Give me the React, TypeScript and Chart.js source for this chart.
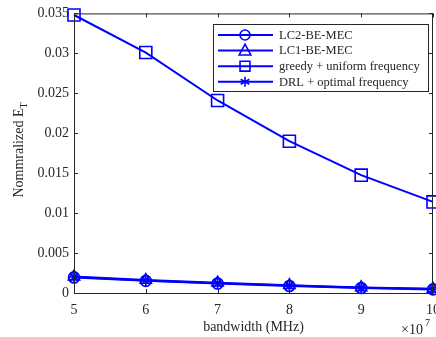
import React, { useEffect, useRef } from "react";
import { Chart, registerables } from "chart.js";

Chart.register(...registerables);

// Bandwidth (×10^7 Hz) and normalized energy E_T for each scheme
const bandwidth = [5, 6, 7, 8, 9, 10];
const lc2BeMec = [0.00195, 0.00152, 0.00118, 0.00088, 0.00062, 0.00045];
const lc1BeMec = [0.00205, 0.00162, 0.00128, 0.00097, 0.00070, 0.00052];
const greedyUniform = [0.0348, 0.0301, 0.0241, 0.0190, 0.01475, 0.0114];
const drlOptimal = [0.00200, 0.00158, 0.00123, 0.00093, 0.00066, 0.00049];
const yTicks = [0, 0.005, 0.01, 0.015, 0.02, 0.025, 0.03, 0.035];
const xTicks = [5, 6, 7, 8, 9, 10];

const BLUE = "#0000ff";
const FONT = "'Liberation Serif', 'Times New Roman', serif";
const AXIS = "#262626";
const TEXT = "#262626";

const seriesDefs = [
  { label: "LC2-BE-MEC", data: lc2BeMec, pointStyle: "circle", radius: 5.5 },
  { label: "LC1-BE-MEC", data: lc1BeMec, pointStyle: "triangle", radius: 6.5 },
  { label: "greedy + uniform frequency", data: greedyUniform, pointStyle: "rect", radius: 8.5 },
  { label: "DRL + optimal frequency", data: drlOptimal, pointStyle: "star", radius: 5.5 },
];

function drawMarker(ctx: CanvasRenderingContext2D, style: string, x: number, y: number, r: number) {
  ctx.strokeStyle = BLUE;
  ctx.beginPath();
  if (style === "circle") {
    ctx.arc(x, y, r, 0, Math.PI * 2);
  } else if (style === "triangle") {
    ctx.moveTo(x, y - r * 1.1);
    ctx.lineTo(x + r, y + r * 0.75);
    ctx.lineTo(x - r, y + r * 0.75);
    ctx.closePath();
  } else if (style === "rect") {
    const h = r * Math.SQRT1_2;
    ctx.rect(x - h, y - h, 2 * h, 2 * h);
  } else {
    ctx.moveTo(x, y - r);
    ctx.lineTo(x, y + r);
    const dx = r * 0.87, dy = r * 0.5;
    ctx.moveTo(x - dx, y - dy);
    ctx.lineTo(x + dx, y + dy);
    ctx.moveTo(x - dx, y + dy);
    ctx.lineTo(x + dx, y - dy);
  }
  ctx.stroke();
}

// Box, inward ticks, x tick labels, axis titles, exponent and legend
const decorations = {
  id: "decorations",
  afterDraw(chart: any) {
    const { ctx, chartArea: a, scales } = chart;
    const xs = scales.x;
    const ys = scales.y;
    ctx.save();
    ctx.strokeStyle = AXIS;
    ctx.lineWidth = 1;
    ctx.strokeRect(a.left + 0.5, a.top + 0.5, a.right - a.left - 1, a.bottom - a.top);
    const tl = 4;
    ctx.beginPath();
    for (const v of xTicks) {
      const px = Math.round(xs.getPixelForValue(v)) + 0.5;
      ctx.moveTo(px, a.bottom);
      ctx.lineTo(px, a.bottom - tl);
      ctx.moveTo(px, a.top);
      ctx.lineTo(px, a.top + tl);
    }
    for (const v of yTicks) {
      const py = Math.round(ys.getPixelForValue(v)) + 0.5;
      ctx.moveTo(a.left, py);
      ctx.lineTo(a.left + tl, py);
      ctx.moveTo(a.right, py);
      ctx.lineTo(a.right - tl, py);
    }
    ctx.stroke();

    // x tick labels
    ctx.fillStyle = TEXT;
    ctx.font = `14px ${FONT}`;
    ctx.textAlign = "center";
    ctx.textBaseline = "middle";
    for (const v of xTicks) {
      ctx.fillText(String(v), xs.getPixelForValue(v), a.bottom + 17);
    }

    // x axis title
    ctx.textBaseline = "alphabetic";
    ctx.fillText("bandwidth (MHz)", (a.left + a.right) / 2, 331);

    // exponent
    ctx.textAlign = "left";
    ctx.font = `14px ${FONT}`;
    ctx.fillText("\u00d710", 401, 334);
    ctx.font = `10px ${FONT}`;
    ctx.fillText("7", 425, 326);

    // y axis title with subscript
    ctx.save();
    ctx.translate(23, 150);
    ctx.rotate(-Math.PI / 2);
    ctx.font = `14px ${FONT}`;
    const main = "Nommralized E";
    const wMain = ctx.measureText(main).width;
    ctx.font = `10px ${FONT}`;
    const wSub = ctx.measureText("T").width;
    const start = -(wMain + wSub) / 2;
    ctx.font = `14px ${FONT}`;
    ctx.textAlign = "left";
    ctx.fillText(main, start, 0);
    ctx.font = `10px ${FONT}`;
    ctx.fillText("T", start + wMain, 4);
    ctx.restore();

    // legend
    const lx = 213, ly = 24, lw = 215, lh = 67;
    ctx.fillStyle = "#fff";
    ctx.fillRect(lx, ly, lw, lh);
    ctx.strokeStyle = AXIS;
    ctx.lineWidth = 1;
    ctx.strokeRect(lx + 0.5, ly + 0.5, lw, lh);
    chart.data.datasets.forEach((ds: any, i: number) => {
      const cy = 35 + i * 15.6;
      ctx.strokeStyle = BLUE;
      ctx.lineWidth = 2;
      ctx.beginPath();
      ctx.moveTo(218, cy);
      ctx.lineTo(273, cy);
      ctx.stroke();
      ctx.lineWidth = 1.6;
      const r = ds.pointStyle === "rect" ? 7 : ds.pointStyle === "triangle" ? 5.8 : 5;
      drawMarker(ctx, ds.pointStyle, 245, cy, r);
      ctx.fillStyle = TEXT;
      ctx.font = `12.5px ${FONT}`;
      ctx.textAlign = "left";
      ctx.textBaseline = "middle";
      ctx.fillText(ds.label, 279, cy + 0.5);
    });
    ctx.restore();
  },
};

export default function App() {
  const ref = useRef<HTMLCanvasElement>(null);
  useEffect(() => {
    if (!ref.current) return;
    const chart = new Chart(ref.current, {
      type: "line",
      data: {
        datasets: seriesDefs.map((s) => ({
          label: s.label,
          data: bandwidth.map((x, i) => ({ x, y: s.data[i] })),
          borderColor: BLUE,
          backgroundColor: "transparent",
          borderWidth: 2,
          pointStyle: s.pointStyle as any,
          pointRadius: s.radius,
          pointBorderWidth: 1.6,
          pointBorderColor: BLUE,
          pointBackgroundColor: "transparent",
          tension: 0,
          clip: false as any,
        })),
      },
      options: {
        animation: false,
        responsive: false,
        maintainAspectRatio: false,
        layout: { autoPadding: false, padding: { top: 13, right: 3, left: 0, bottom: 0 } },
        plugins: { legend: { display: false }, tooltip: { enabled: false } },
        scales: {
          x: {
            type: "linear",
            min: 5,
            max: 10,
            afterFit: (s: any) => {
              s.height = 44;
            },
            afterBuildTicks: (s: any) => {
              s.ticks = xTicks.map((v) => ({ value: v }));
            },
            grid: { display: false, drawTicks: false },
            border: { display: false },
            ticks: { display: false },
          },
          y: {
            min: 0,
            max: 0.035,
            afterFit: (s: any) => {
              s.width = 74;
            },
            afterBuildTicks: (s: any) => {
              s.ticks = yTicks.map((v) => ({ value: v }));
            },
            grid: { display: false, drawTicks: false },
            border: { display: false },
            ticks: {
              color: TEXT,
              font: { family: FONT, size: 14 },
              padding: 5,
              callback: (v: any) => String(Number(Number(v).toFixed(3))),
            },
          },
        },
      },
      plugins: [decorations],
    });
    return () => chart.destroy();
  }, []);
  return (
    <div style={{ position: "absolute", left: 0, top: 0, width: 436, height: 337, background: "#fff", overflow: "hidden" }}>
      <canvas ref={ref} width={436} height={337} style={{ width: 436, height: 337 }} />
    </div>
  );
}
